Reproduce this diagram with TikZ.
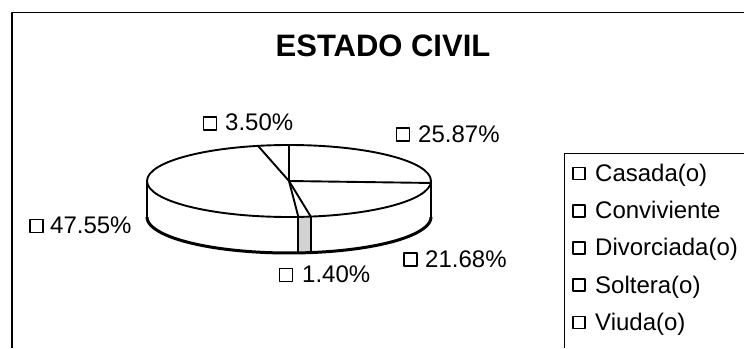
\documentclass[tikz,border=0pt]{standalone}
\usepackage{fontspec}
\setmainfont{Liberation Sans}
\begin{document}
\begin{tikzpicture}[x=1pt,y=-1pt, line join=round,
  edge/.style={draw=black, line width=1.9pt},
  lbl/.style={anchor=base west, inner sep=0pt, font=\fontsize{24}{28}\selectfont},
  sq/.style={draw=black, line width=1.7pt, fill=white, minimum size=13pt, inner sep=0pt},
  lsq/.style={draw=black, line width=1.6pt, fill=white, minimum size=12pt, inner sep=0pt},
]
\useasboundingbox (0,0) rectangle (744,348);
\fill[white] (0,0) rectangle (744,348);
% chart frame
\draw[line width=1.1pt] (12,348) -- (12,12.5) -- (744,12.5);
% title
\node[anchor=base, inner sep=0pt, font=\bfseries\fontsize{31}{36}\selectfont] (title) at (383,56) {ESTADO CIVIL};
% pie geometry: centre (289,181), rx 142, ry 36, depth 36
\def\rx{142}\def\ry{36}
% front side
\fill[white] plot[domain=90:270, samples=80] ({289+\rx*sin(\x)},{181-\ry*cos(\x)})
  -- plot[domain=270:90, samples=80] ({289+\rx*sin(\x)},{217-\ry*cos(\x)}) -- cycle;
% thin slice side (Divorciada)
\fill[gray!35] plot[domain=171.18:176.22, samples=5] ({289+\rx*sin(\x)},{181-\ry*cos(\x)})
  -- plot[domain=176.22:171.18, samples=5] ({289+\rx*sin(\x)},{217-\ry*cos(\x)}) -- cycle;
\draw[black, line width=3pt] plot[domain=90:270, samples=80] ({289+\rx*sin(\x)},{217-\ry*cos(\x)});
\foreach \a/\n in {90/sR,270/sL,171.18/sA,176.22/sB} {
  \coordinate (\n t) at ({289+\rx*sin(\a)},{181-\ry*cos(\a)});
  \coordinate (\n b) at ({289+\rx*sin(\a)},{217-\ry*cos(\a)});
}
\draw[edge] (sRt) -- (sRb);
\draw[edge] (sLt) -- (sLb);
\draw[edge] (sAt) -- (sAb);
\draw[edge] (sBt) -- (sBb);
% top face
\draw[edge, fill=white] (289,181) ellipse [x radius=\rx, y radius=\ry];
\coordinate (ctr) at (289,181);
\foreach \a/\n in {0/b0,93.13/b1,171.18/b2,176.22/b3,347.4/b4} {
  \coordinate (\n) at ({289+\rx*sin(\a)},{181-\ry*cos(\a)});
}
\draw[edge] (ctr) -- (b0);
\draw[edge] (ctr) -- (b1);
\draw[edge] (ctr) -- (b2);
\draw[edge] (ctr) -- (b3);
\draw[edge] (ctr) -- (b4);
% data labels
\node[sq] (q1) at (210,123.5) {};
\node[lbl] (t1) at (225,130) {3.50\%};
\node[sq] (q2) at (403,134.5) {};
\node[lbl] (t2) at (418,142) {25.87\%};
\node[sq] (q3) at (36.5,226) {};
\node[lbl] (t3) at (50,233) {47.55\%};
\node[sq] (q4) at (410.5,259.5) {};
\node[lbl] (t4) at (425,267) {21.68\%};
\node[sq] (q5) at (286,275) {};
\node[lbl] (t5) at (302,282) {1.40\%};
% legend
\draw[line width=1.1pt] (564.5,348) -- (564.5,153.5) -- (744,153.5);
\foreach \yy/\txt/\n in {181.5/Casada(o)/L1, 218.7/Conviviente/L2, 255.9/Divorciada(o)/L3, 293.1/Soltera(o)/L4, 330.3/Viuda(o)/L5} {
  \node[lsq] (\n q) at (579,\yy-8) {};
  \node[lbl] (\n t) at (595,\yy) {\txt};
}
\end{tikzpicture}
\end{document}
